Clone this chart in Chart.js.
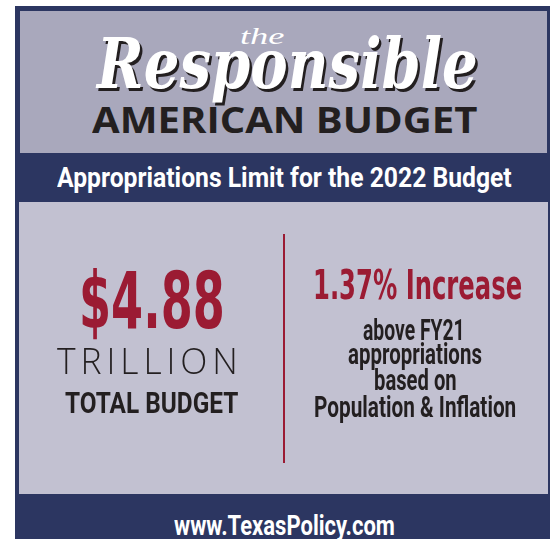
<!DOCTYPE html>
<html>
<head>
<meta charset="utf-8">
<script src="https://cdn.jsdelivr.net/npm/chart.js@4.4.1/dist/chart.umd.min.js"></script>
<style>
  html, body { margin: 0; padding: 0; background: #fff; }
  #card { position: relative; width: 550px; height: 539px; overflow: hidden; background: #fff; }
  .panel { position: absolute; }
  #frame { left: 15px; top: 6px; width: 535px; height: 533px; background: #2c3661; }
  #top { left: 20px; top: 11px; width: 527px; height: 142px; background: #a9a8bc; }
  #mid { left: 19px; top: 202px; width: 529px; height: 292px; background: #c2c1d1; }
  #statsWrap { position: absolute; left: 16px; top: 234px; width: 536px; height: 229px; }
  .t { position: absolute; white-space: nowrap; transform-origin: 0 0; line-height: 1; }
  .t i { display: inline-block; width: 0; height: 0; vertical-align: baseline; }
</style>
</head>
<body>
<div id="card">
  <div class="panel" id="frame"></div>
  <div class="panel" id="top"></div>
  <div class="panel" id="mid"></div>
  <div id="statsWrap"><canvas id="divider"></canvas></div>
</div>
<script>
// the two headline figures
const statLabels = ['Total Budget', 'Increase'];
const totalBudget = 4.88;      // trillions
const increasePct = 1.37;      // percent above FY21
const budgetYear = 2022;
const priorYear = 'FY21';

const RED = '#9b1b33';
const INK = '#231f20';

const card = document.getElementById('card');

// the red rule between the two figures is the category gridline between them
const chart = new Chart(document.getElementById('divider'), {
    type: 'bar',
    data: { labels: statLabels, datasets: [] },
    options: {
        responsive: false,
        animation: false,
        maintainAspectRatio: false,
        layout: { padding: 0 },
        plugins: { legend: { display: false }, tooltip: { enabled: false } },
        scales: {
            x: {
                offset: true,
                border: { display: false },
                ticks: { display: false },
                grid: {
                    offset: true,
                    drawTicks: false,
                    lineWidth: 2,
                    color: ctx => ctx.index === 1 ? RED : 'rgba(0,0,0,0)'
                }
            },
            y: { display: false }
        }
    }
});
chart.resize(536, 229);

// place a line of text by its centre, baseline and visual width
function put(text, cx, baseline, width, css) {
    const el = document.createElement('div');
    el.className = 't';
    el.textContent = text;
    el.appendChild(document.createElement('i'));
    Object.assign(el.style, css);
    card.appendChild(el);
    const w = el.offsetWidth;
    const base = el.querySelector('i').offsetTop;
    el.style.left = (cx - width / 2) + 'px';
    el.style.top = (baseline - base) + 'px';
    el.style.transform = 'scaleX(' + (width / w) + ')';
    return el;
}

const condensed = '"Liberation Sans Narrow", "Roboto", sans-serif';
const heavy = '"DejaVu Sans", sans-serif';

function layoutText() {
    const wrap = document.getElementById('statsWrap');
    const xs = chart.scales.x;
    const left = wrap.offsetLeft + xs.getPixelForValue(0);
    const right = wrap.offsetLeft + xs.getPixelForValue(1);

    // header
    put('the', 262, 44, 44, { font: 'italic 24px "Liberation Serif", serif', color: '#ffffff' });
    put('Responsible', 287, 88, 381, {
        font: 'italic bold 70px "DejaVu Serif", serif', color: '#ffffff',
        textShadow: '3px 3px 0 ' + INK
    });
    put('AMERICAN BUDGET', 285, 133, 386, { font: 'bold 35px "Open Sans", sans-serif', color: INK });
    put('Appropriations Limit for the ' + budgetYear + ' Budget', 284.5, 187, 455,
        { font: 'bold 28px ' + condensed, color: '#ffffff' });

    // left figure
    put('$' + totalBudget.toFixed(2), left + 2, 328, 146, { font: 'bold 78px ' + heavy, color: RED });
    put('TRILLION', left, 374, 186, { font: '300 36px "Open Sans", sans-serif', color: INK, letterSpacing: '5px' });
    put('TOTAL BUDGET', left + 1, 413, 173, { font: 'bold 30px ' + condensed, color: INK });

    // right figure
    put(increasePct.toFixed(2) + '% Increase', right - 1, 299, 209, { font: 'bold 41px ' + heavy, color: RED });
    const sub = { font: 'bold 29px ' + condensed, color: INK };
    put('above ' + priorYear, right - 4, 340, 102, sub);
    put('appropriations', right - 3, 364, 134, sub);
    put('based on', right - 3, 390, 83, sub);
    put('Population & Inflation', right - 3, 417, 202, sub);

    // footer
    put('www.TexasPolicy.com', 284, 535, 221, { font: 'bold 28px ' + condensed, color: '#ffffff' });
}

document.fonts.ready.then(layoutText);
</script>
</body>
</html>
